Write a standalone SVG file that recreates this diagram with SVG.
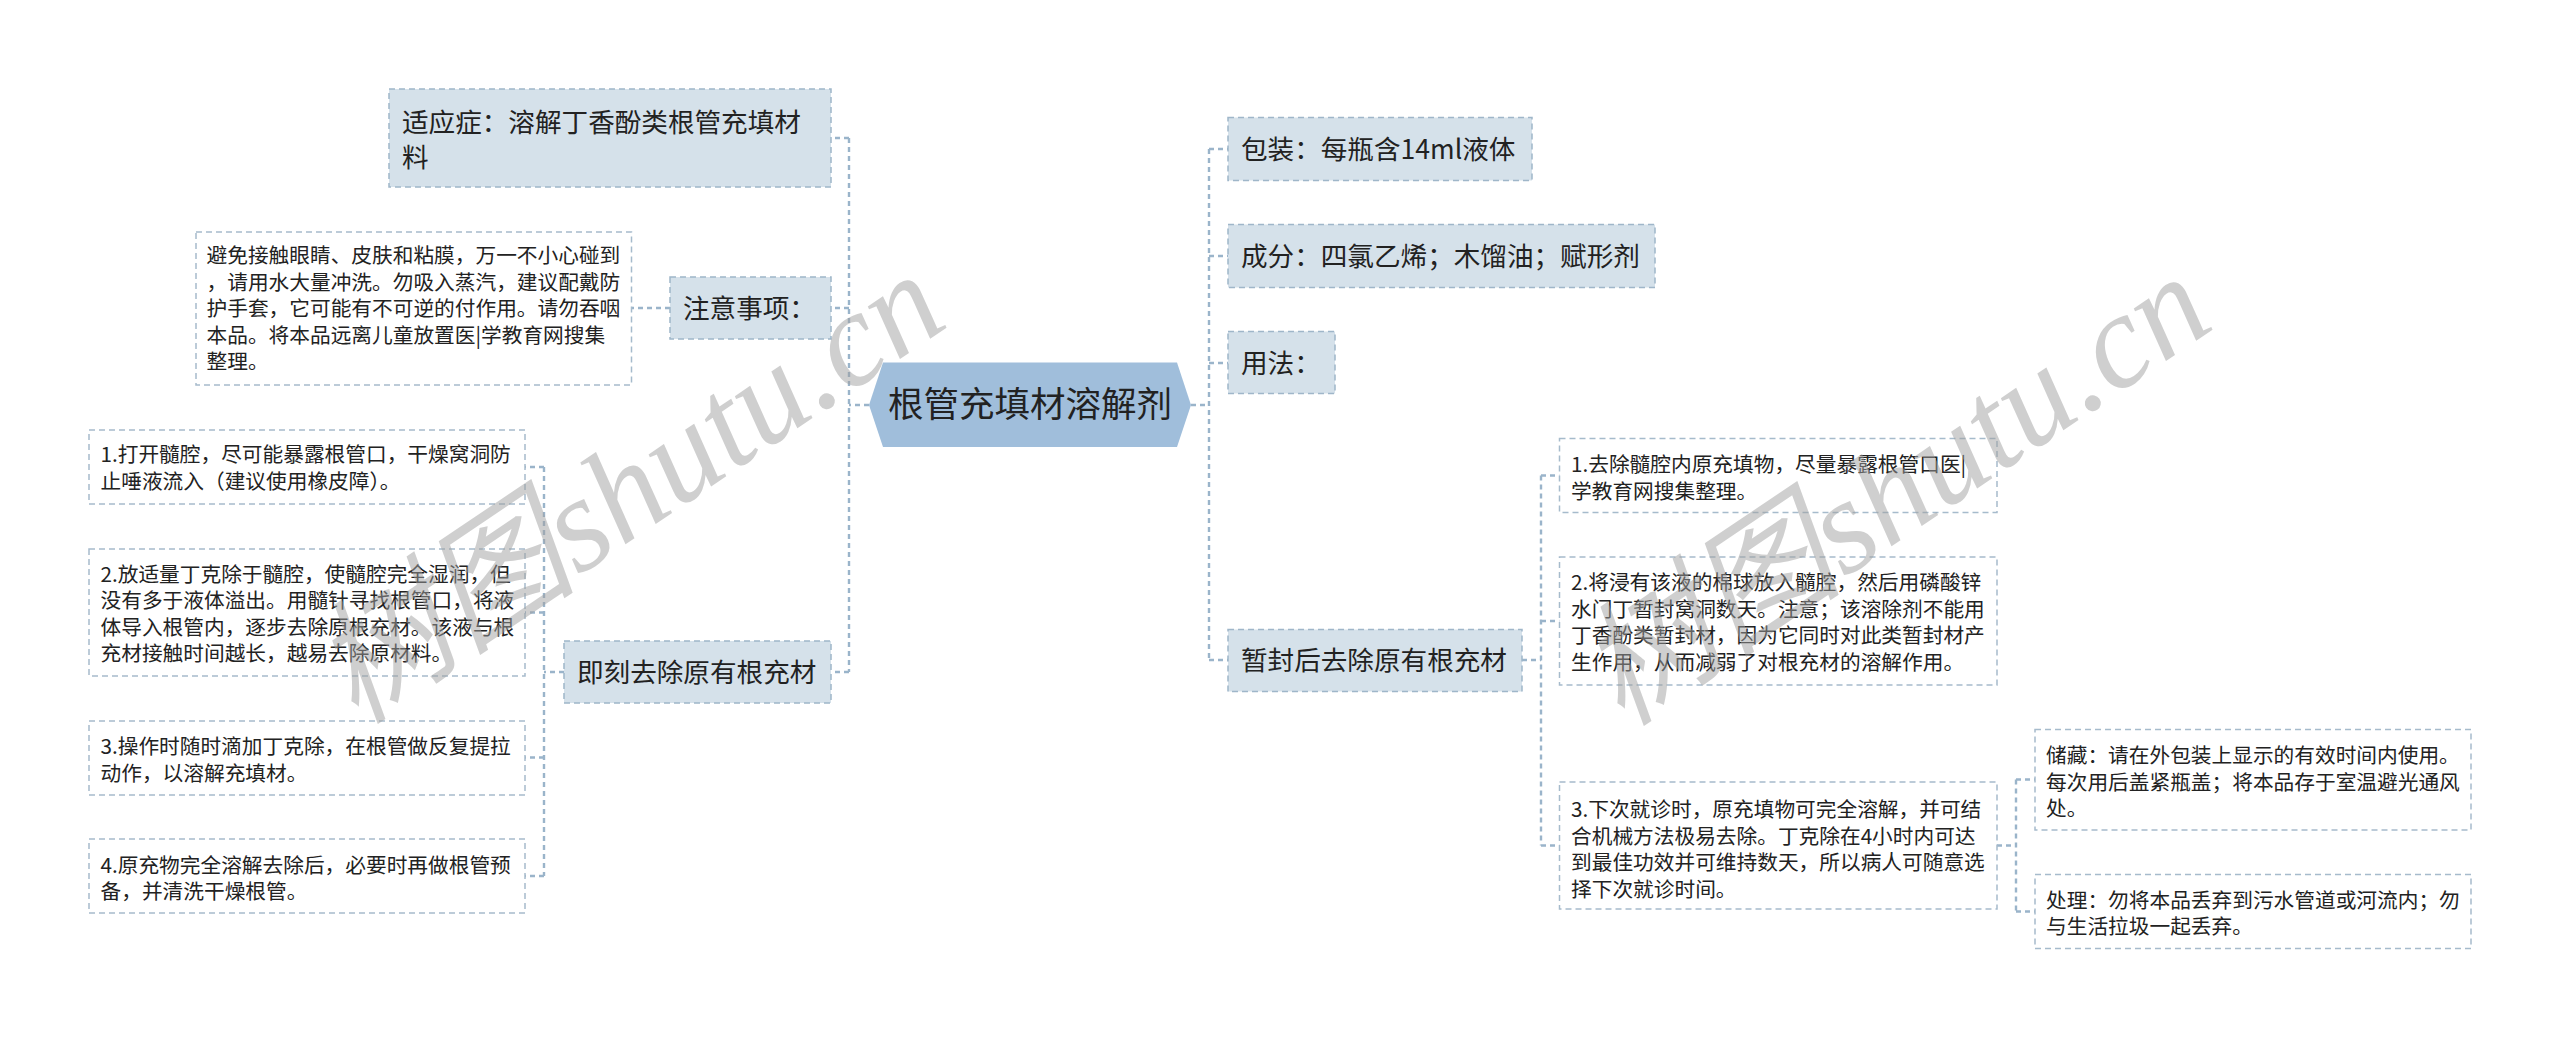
<svg xmlns="http://www.w3.org/2000/svg" width="2560" height="1038" viewBox="0 0 2560 1038">
<style>
.bg{fill:#ffffff}
.l1{fill:#d5e1ea;stroke:#9fb6c9;stroke-width:1.5;stroke-dasharray:6 4}
.dt{fill:#ffffff;stroke:#a6bbcc;stroke-width:1.5;stroke-dasharray:6 4}
.main{fill:#a0bedb}
.t{font-family:"Noto Sans CJK SC","Noto Sans",sans-serif;fill:#222222}
.tm{font-size:35.5px}
.t1{font-size:26.6px}
.t2{font-size:20.7px}
.cn{fill:none;stroke:#9ab4ca;stroke-width:2.4;stroke-dasharray:5 4}
.wm{font-family:"Liberation Serif","Noto Sans CJK SC",serif;font-style:italic;font-size:134px;fill:#a0a0a0;opacity:0.5}
</style>
<rect class="bg" x="0" y="0" width="2560" height="1038"/>

<g id="connectors">
  <path class="cn" d="M869 405 H849 M849 138 V672 M849 138 H831 M849 308 H831 M849 672 H831"/>
  <path class="cn" d="M670 308 H631.5"/>
  <path class="cn" d="M564 672 H544 M544 467 V876 M544 467 H525 M544 612.5 H525 M544 757.5 H525 M544 876 H525"/>
  <path class="cn" d="M1191 405 H1209 M1209 149 V660 M1209 149 H1228 M1209 256 H1228 M1209 363 H1228 M1209 660 H1228"/>
  <path class="cn" d="M1522 660 H1541 M1541 475.5 V845.5 M1541 475.5 H1559.5 M1541 621 H1559.5 M1541 845.5 H1559.5"/>
  <path class="cn" d="M1997 845.5 H2016 M2016 779.5 V911.5 M2016 779.5 H2035 M2016 911.5 H2035"/>
</g>

<g id="main">
  <polygon class="main" points="869,405 883,362.5 1177,362.5 1191,405 1177,447 883,447"/>
  <text class="t tm" x="1030" y="416.5" text-anchor="middle">根管充填材溶解剂</text>
</g>

<g id="shiyingzheng">
  <rect class="l1" x="389" y="89" width="442" height="98"/>
  <text class="t t1" x="402" y="131.5">适应症：溶解丁香酚类根管充填材</text>
  <text class="t t1" x="402" y="166.5">料</text>
</g>

<g id="zhuyi">
  <rect class="l1" x="670" y="277" width="161" height="62"/>
  <text class="t t1" x="683" y="317.5">注意事项：</text>
</g>

<g id="zhuyi-detail">
  <rect class="dt" x="196" y="232" width="435.5" height="153"/>
  <text class="t t2" x="206.5" y="263">避免接触眼睛、皮肤和粘膜，万一不小心碰到</text>
  <text class="t t2" x="206.5" y="289.6">，请用水大量冲洗。勿吸入蒸汽，建议配戴防</text>
  <text class="t t2" x="206.5" y="316.2">护手套，它可能有不可逆的付作用。请勿吞咽</text>
  <text class="t t2" x="206.5" y="342.8">本品。将本品远离儿童放置医|学教育网搜集</text>
  <text class="t t2" x="206.5" y="369.4">整理。</text>
</g>

<g id="jike">
  <rect class="l1" x="564" y="641" width="267" height="62"/>
  <text class="t t1" x="577" y="681.5">即刻去除原有根充材</text>
</g>

<g id="jike-1">
  <rect class="dt" x="89" y="430" width="436" height="74"/>
  <text class="t t2" x="100.5" y="462">1.打开髓腔，尽可能暴露根管口，干燥窝洞防</text>
  <text class="t t2" x="100.5" y="488.6">止唾液流入（建议使用橡皮障）。</text>
</g>

<g id="jike-2">
  <rect class="dt" x="89" y="549" width="436" height="127"/>
  <text class="t t2" x="100.5" y="581.5">2.放适量丁克除于髓腔，使髓腔完全湿润，但</text>
  <text class="t t2" x="100.5" y="608.1">没有多于液体溢出。用髓针寻找根管口，将液</text>
  <text class="t t2" x="100.5" y="634.7">体导入根管内，逐步去除原根充材。该液与根</text>
  <text class="t t2" x="100.5" y="661.3">充材接触时间越长，越易去除原材料。</text>
</g>

<g id="jike-3">
  <rect class="dt" x="89" y="721" width="436" height="74"/>
  <text class="t t2" x="100.5" y="754">3.操作时随时滴加丁克除，在根管做反复提拉</text>
  <text class="t t2" x="100.5" y="780.6">动作，以溶解充填材。</text>
</g>

<g id="jike-4">
  <rect class="dt" x="89" y="839" width="436" height="74"/>
  <text class="t t2" x="100.5" y="872.5">4.原充物完全溶解去除后，必要时再做根管预</text>
  <text class="t t2" x="100.5" y="899.1">备，并清洗干燥根管。</text>
</g>

<g id="baozhuang">
  <rect class="l1" x="1228" y="117.5" width="304" height="63"/>
  <text class="t t1" x="1241" y="159">包装：每瓶含14ml液体</text>
</g>

<g id="chengfen">
  <rect class="l1" x="1228" y="224.5" width="427" height="63"/>
  <text class="t t1" x="1241" y="266">成分：四氯乙烯；木馏油；赋形剂</text>
</g>

<g id="yongfa">
  <rect class="l1" x="1228" y="331.5" width="107" height="62"/>
  <text class="t t1" x="1241" y="372.5">用法：</text>
</g>

<g id="zanfeng">
  <rect class="l1" x="1228" y="629.5" width="294" height="62"/>
  <text class="t t1" x="1241" y="670">暂封后去除原有根充材</text>
</g>

<g id="zanfeng-1">
  <rect class="dt" x="1559.5" y="438.5" width="437.5" height="74"/>
  <text class="t t2" x="1571" y="472">1.去除髓腔内原充填物，尽量暴露根管口医|</text>
  <text class="t t2" x="1571" y="498.6">学教育网搜集整理。</text>
</g>

<g id="zanfeng-2">
  <rect class="dt" x="1559.5" y="557" width="437.5" height="128"/>
  <text class="t t2" x="1571" y="590">2.将浸有该液的棉球放入髓腔，然后用磷酸锌</text>
  <text class="t t2" x="1571" y="616.6">水门丁暂封窝洞数天。注意；该溶除剂不能用</text>
  <text class="t t2" x="1571" y="643.2">丁香酚类暂封材，因为它同时对此类暂封材产</text>
  <text class="t t2" x="1571" y="669.8">生作用，从而减弱了对根充材的溶解作用。</text>
</g>

<g id="zanfeng-3">
  <rect class="dt" x="1559.5" y="782" width="437.5" height="127"/>
  <text class="t t2" x="1571" y="817">3.下次就诊时，原充填物可完全溶解，并可结</text>
  <text class="t t2" x="1571" y="843.6">合机械方法极易去除。丁克除在4小时内可达</text>
  <text class="t t2" x="1571" y="870.2">到最佳功效并可维持数天，所以病人可随意选</text>
  <text class="t t2" x="1571" y="896.8">择下次就诊时间。</text>
</g>

<g id="chucang">
  <rect class="dt" x="2035" y="729.5" width="436" height="100.5"/>
  <text class="t t2" x="2046" y="763">储藏：请在外包装上显示的有效时间内使用。</text>
  <text class="t t2" x="2046" y="789.6">每次用后盖紧瓶盖；将本品存于室温避光通风</text>
  <text class="t t2" x="2046" y="816.2">处。</text>
</g>

<g id="chuli">
  <rect class="dt" x="2035" y="874.5" width="436" height="74"/>
  <text class="t t2" x="2046" y="907.5">处理：勿将本品丢弃到污水管道或河流内；勿</text>
  <text class="t t2" x="2046" y="934.1">与生活拉圾一起丢弃。</text>
</g>

<g id="watermarks">
  <text class="wm" transform="translate(356,726) rotate(-34)">树图shutu.cn</text>
  <text class="wm" transform="translate(1622,728) rotate(-34)">树图shutu.cn</text>
</g>
</svg>
